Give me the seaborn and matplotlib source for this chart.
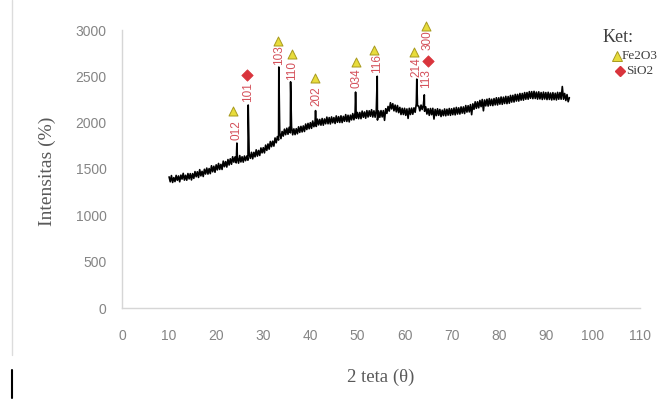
import numpy as np
import pandas as pd
import matplotlib
matplotlib.use("Agg")
import matplotlib.pyplot as plt
from matplotlib.lines import Line2D
import seaborn as sns

# --- datos del difractograma ---
# fondo con ruido, paso de 0.25 grados desde 10 hasta 95
base_start, base_step = 10.0, 0.25
base_int = [
    1415, 1362, 1429, 1355, 1407, 1364, 1431, 1378, 1425, 1362, 1434, 1391, 1453, 1380, 1432, 1379, 1451, 1393, 1450, 1382,
    1450, 1399, 1472, 1416, 1470, 1409, 1493, 1426, 1475, 1419, 1497, 1446, 1510, 1445, 1505, 1450, 1535, 1470, 1530, 1465,
    1545, 1490, 1560, 1495, 1550, 1495, 1585, 1525, 1580, 1521, 1602, 1543, 1610, 1551, 1632, 1574, 1630, 1566, 1622, 1563,
    1645, 1576, 1632, 1574, 1640, 1590, 1640, 1595, 1665, 1615, 1680, 1610, 1680, 1631, 1707, 1639, 1700, 1646, 1727, 1674,
    1730, 1674, 1758, 1701, 1770, 1714, 1797, 1741, 1800, 1747, 1835, 1783, 1850, 1812, 1890, 1828, 1905, 1855, 1930, 1870,
    1940, 1875, 1950, 1890, 1955, 1869, 1933, 1871, 1935, 1880, 1955, 1895, 1960, 1900, 1965, 1905, 1985, 1926, 1992, 1934,
    2000, 1939, 2018, 1956, 2010, 1959, 2038, 1976, 2035, 1973, 2045, 1973, 2040, 1988, 2060, 1988, 2055, 1986, 2062, 1999,
    2055, 1991, 2073, 2004, 2065, 2002, 2074, 2001, 2068, 2015, 2087, 2013, 2080, 2008, 2081, 2030, 2098, 2031, 2109, 2047,
    2110, 2043, 2110, 2043, 2125, 2058, 2115, 2048, 2130, 2061, 2128, 2069, 2140, 2061, 2128, 2059, 2135, 2028, 2125, 2058,
    2130, 2062, 2130, 2025, 2150, 2100, 2175, 2125, 2215, 2148, 2205, 2128, 2190, 2117, 2185, 2108, 2165, 2088, 2155, 2088,
    2155, 2079, 2148, 2046, 2155, 2088, 2157, 2091, 2160, 2112, 2205, 2182, 2180, 2127, 2190, 2142, 2190, 2123, 2170, 2093,
    2150, 2079, 2153, 2086, 2155, 2039, 2143, 2076, 2150, 2079, 2143, 2066, 2135, 2076, 2148, 2074, 2145, 2081, 2153, 2079,
    2150, 2086, 2158, 2084, 2165, 2093, 2160, 2093, 2170, 2103, 2170, 2098, 2185, 2114, 2183, 2116, 2195, 2086, 2203, 2144,
    2225, 2155, 2225, 2160, 2240, 2173, 2250, 2128, 2245, 2181, 2253, 2179, 2260, 2186, 2253, 2184, 2260, 2192, 2269, 2191,
    2268, 2200, 2277, 2198, 2275, 2207, 2284, 2205, 2282, 2210, 2294, 2222, 2295, 2223, 2305, 2233, 2305, 2233, 2315, 2243,
    2315, 2243, 2325, 2253, 2325, 2253, 2335, 2263, 2335, 2259, 2338, 2261, 2330, 2254, 2333, 2256, 2325, 2250, 2330, 2255,
    2325, 2249, 2328, 2251, 2320, 2245, 2324, 2249, 2318, 2245, 2327, 2253, 2325, 2253, 2390, 2253, 2315, 2239, 2303, 2226,
    2270,
]

# cimas de los picos (2θ, intensidad)
peak_2t = [24.4, 26.8, 33.3, 35.8, 41.1, 49.6, 54.2, 62.6, 64.2]
peak_int = [1780, 2190, 2600, 2440, 2130, 2330, 2500, 2470, 2300]

# marcadores de fases
fe_2t = [23.6, 33.1, 36.0, 41.0, 49.6, 53.5, 62.1, 64.6]
fe_int = [2128, 2884, 2736, 2478, 2657, 2783, 2765, 3042]
si_2t = [26.6, 64.9]
si_int = [2513, 2668]

# índices de Miller
hkl_text = ["012", "101", "103", "110", "202", "034", "116", "214", "113", "300"]
hkl_2t = [24.3, 26.8, 33.3, 36.2, 41.2, 49.9, 54.2, 62.6, 64.6, 64.8]
hkl_int = [1920, 2333, 2730, 2567, 2287, 2478, 2640, 2603, 2478, 2891]

base_2t = [base_start + i * base_step for i in range(len(base_int))]
df = pd.DataFrame({"2teta": base_2t + peak_2t, "int": base_int + peak_int})
df = df.sort_values("2teta").reset_index(drop=True)

sns.set_style("white")
plt.rcParams['font.family'] = ['Liberation Sans', 'DejaVu Sans']

fig = plt.figure(figsize=(6.65, 4.0), dpi=100)
ax = fig.add_axes([122 / 665, 1 - 308 / 400, 518 / 665, 278 / 400])

sns.lineplot(data=df, x="2teta", y="int", ax=ax, color="black",
             linewidth=1.2, estimator=None, sort=False)

ax.scatter(fe_2t, fe_int, marker="^", s=42, color="#e8dc3c",
           edgecolor="#a89a1e", linewidth=0.7, clip_on=False, zorder=5)
ax.scatter(si_2t, si_int, marker="D", s=34, color="#d9343c",
           edgecolor="#d9343c", linewidth=0.5, clip_on=False, zorder=5)

for t, x, y in zip(hkl_text, hkl_2t, hkl_int):
    ax.text(x, y, t, rotation=90, ha="center", va="center",
            fontsize=8.5, color="#d4505a")

ax.set_xlim(0, 110)
ax.set_ylim(0, 3000)
ax.set_xticks(range(0, 111, 10))
ax.set_yticks(range(0, 3001, 500))
ax.tick_params(axis="x", length=0, pad=15, labelsize=10, labelcolor="#858585")
ax.tick_params(axis="y", length=0, pad=11, labelsize=10, labelcolor="#858585")

for s in ["top", "right"]:
    ax.spines[s].set_visible(False)
for s in ["left", "bottom"]:
    ax.spines[s].set_color("#d6d6d6")
    ax.spines[s].set_linewidth(1.0)

serif = ["Liberation Serif", "DejaVu Serif"]
ax.set_xlabel("2 teta (θ)", family=serif, fontsize=13.5, color="#595959")
ax.set_ylabel("Intensitas (%)", family=serif, fontsize=14, color="#595959")
ax.xaxis.set_label_coords(0.5, -0.218)
ax.yaxis.set_label_coords(-0.128, 0.49)

# leyenda manual "Ket:"
fig.text(603 / 665, 1 - 38 / 400, "Ket:", family=serif, fontsize=13,
         color="#404040", va="center")
fig.add_artist(Line2D([616.5 / 665], [1 - 56 / 400], marker="^", markersize=6.5,
                      color="#e8dc3c", markeredgecolor="#a89a1e", markeredgewidth=0.7))
fig.text(622 / 665, 1 - 56 / 400, "Fe2O3", family=serif, fontsize=9.5,
         color="#404040", va="center")
fig.add_artist(Line2D([620 / 665], [1 - 71 / 400], marker="D", markersize=5.5,
                      color="#d9343c"))
fig.text(626 / 665, 1 - 71 / 400, "SiO2", family=serif, fontsize=9.5,
         color="#404040", va="center")

# bordes del recorte original
fig.add_artist(Line2D([12 / 665, 12 / 665], [1.0, 1 - 355 / 400],
                      color="#dcdcdc", linewidth=1))
fig.add_artist(Line2D([12 / 665, 12 / 665], [1 - 370 / 400, 1 - 398 / 400],
                      color="black", linewidth=1.5))

fig.savefig("out.png", dpi=100)
